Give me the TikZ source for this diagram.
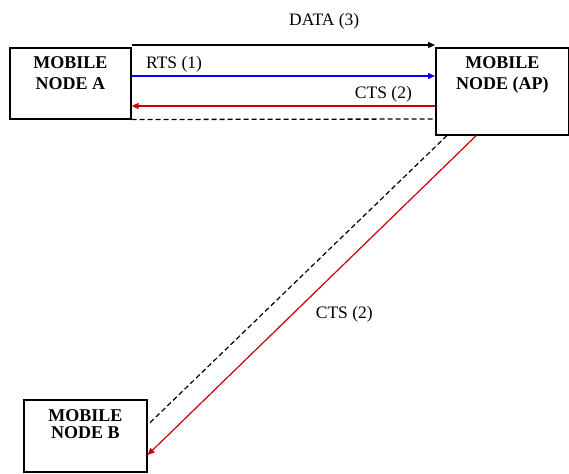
\documentclass[tikz,border=0pt]{standalone}
\usepackage{fontspec}
\setmainfont{Liberation Serif}
\usetikzlibrary{arrows.meta}

\tikzset{
  mobnode/.style={draw, line width=1.6pt, align=center, inner xsep=0pt, inner ysep=9pt,
    font=\fontsize{18}{21}\selectfont\bfseries},
  msg/.style={line width=1.4pt, -{Triangle[length=7pt,width=6pt]}},
  msglabel/.style={font=\fontsize{17.5}{19}\selectfont, text=black, inner sep=1pt},
  silent/.style={line width=1.3pt, dash pattern=on 5pt off 3pt}
}

\begin{document}
\begin{tikzpicture}[x=1pt,y=-1pt]
    \useasboundingbox (0,0) rectangle (569,473);

    \node[mobnode, anchor=north west, minimum width=121pt, text depth=20pt] (A) at (9,47) {MOBILE\\NODE A};
    \node[mobnode, anchor=north west, minimum width=133pt, text depth=36pt] (AP) at (435,47) {MOBILE\\NODE (AP)};
    \node[mobnode, anchor=north west, minimum width=123pt, text depth=23pt, inner ysep=10pt,
      font=\fontsize{18}{17}\selectfont\bfseries] (B) at (23,399) {MOBILE\\NODE B};

    \draw[msg] ([yshift=2pt]A.north east) -- ([yshift=2pt]AP.north west)
        node[msglabel, pos=0.635, above=14pt] (data) {DATA (3)};
    \draw[msg, blue] ([yshift=-29pt]A.north east) -- ([yshift=-29pt]AP.north west)
        node[msglabel, pos=0.14, above=2pt] (rts) {RTS (1)};
    \draw[msg, red!80!black] ([yshift=-59pt]AP.north west) -- ([yshift=-59pt]A.north east)
        node[msglabel, pos=0.17, above=2pt] (ctsa) {CTS (2)};
    \draw[silent] (A.south east) -- ([yshift=-72pt]AP.north west);

    \draw[silent, line width=1.2pt] ([xshift=12pt]AP.south west) -- ([yshift=-26pt]B.north east);
    \draw[msg, line width=1.2pt, red!80!black] ([xshift=-26pt]AP.south) -- ([yshift=-56pt]B.north east)
        node[msglabel, pos=0.56, right=22pt] (ctsb) {CTS (2)};

\end{tikzpicture}
\end{document}
